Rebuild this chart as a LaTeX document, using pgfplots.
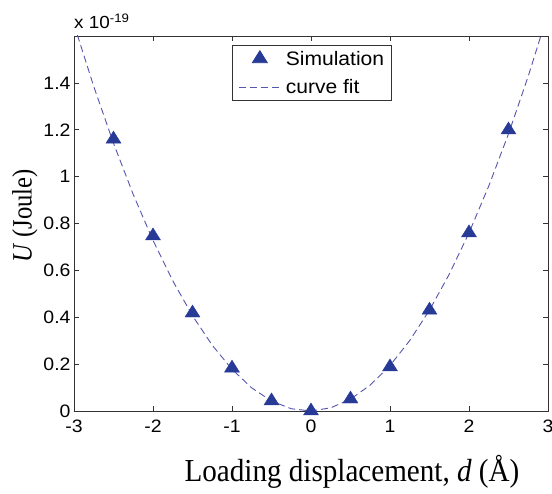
\documentclass[border=0pt]{standalone}
\usepackage{fontspec}
\setmainfont{Liberation Serif}
\newfontfamily\arial[FakeStretch=1.08]{Liberation Sans}
\newfontfamily\xlfont[FakeStretch=0.91]{Liberation Serif}
\newfontfamily\ylfont[FakeStretch=0.88]{Liberation Serif}
\usepackage{pgfplots}
\pgfplotsset{compat=1.18}
\definecolor{mk}{RGB}{38,58,150}
\definecolor{fitc}{RGB}{85,85,175}
\pgfplotsset{
  mklegend/.style={legend image code/.code={\draw[mark repeat=2,mark phase=2,##1] plot coordinates {(0pt,0pt)(21pt,0pt)(42pt,0pt)};}},
  lnlegend/.style={legend image code/.code={\draw[##1] (0pt,0pt) -- (42pt,0pt);}},
}
\begin{document}
\begin{tikzpicture}[x=1pt,y=1pt]
\path[use as bounding box] (-74,-83) rectangle (478,411);
\begin{axis}[
  name=ax,
  at={(0,0)}, anchor=south west,
  scale only axis, width=474pt, height=375pt,
  xmin=-3, xmax=3, ymin=0, ymax=1.6,
  xtick={-3,-2,...,3},
  ytick={0,0.2,0.4,0.6,0.8,1,1.2,1.4},
  yticklabels={0,0.2,0.4,0.6,0.8,1,1.2,1.4},
  xticklabels={-3,-2,-1,0,1,2,3},
  tick align=inside,
  major tick length=5pt,
  axis line style={black!80, line width=0.8pt},
  tick style={black!80, line width=0.6pt},
  /pgf/number format/assume math mode=true,
  ticklabel style={font=\arial\fontsize{18}{21}\selectfont, inner sep=1pt},
  xticklabel style={yshift=-8pt},
  yticklabel style={xshift=-2.3pt},
  xlabel={Loading displacement, \textit{d} (Å)},
  ylabel={\textit{U} (Joule)},
  xlabel style={font=\xlfont\fontsize{32}{36}\selectfont, at={(axis description cs:0.5865,0)}, anchor=base, yshift=-71pt},
  ylabel style={font=\ylfont\fontsize{28}{32}\selectfont, at={(axis description cs:-0.1034,0.52)}, anchor=center},
  legend style={at={(axis cs:-1.0,1.5616)}, anchor=north west, draw=black!80,
    font=\arial\fontsize{19.5}{22}\selectfont, inner xsep=6pt, inner ysep=4pt,
    row sep=10pt, line width=0.8pt,
    nodes={inner sep=1.5pt},
    /tikz/every odd column/.append style={column sep=3pt}},
  legend cell align=left,
]
\addplot[only marks, mark=triangle*, mark size=8pt, mark options={xscale=1.08}, color=mk, mklegend]
coordinates {
(-2.5,1.16) (-2,0.747) (-1.5,0.418) (-1,0.183) (-0.5,0.043) (0,0.0)
(0.5,0.051) (1,0.188) (1.5,0.43) (2,0.76) (2.5,1.199)};
\addlegendentry{Simulation}
\addplot[color=fitc, line width=0.9pt, dash pattern=on 7pt off 4pt, lnlegend]
coordinates {
(-3,1.650) (-2.75,1.3846) (-2.5,1.1425) (-2.25,0.9236) (-2,0.728)
(-1.75,0.5556) (-1.5,0.4065) (-1.25,0.2806) (-1,0.178) (-0.75,0.0986)
(-0.5,0.0425) (-0.25,0.0096) (0,0) (0.25,0.0136) (0.5,0.0505)
(0.75,0.1106) (1,0.194) (1.25,0.3006) (1.5,0.4305) (1.75,0.5836)
(2,0.760) (2.25,0.9596) (2.5,1.1825) (2.75,1.4286) (3,1.698)};
\addlegendentry{curve fit}
\end{axis}
\node[anchor=base west, font=\arial\fontsize{17.5}{20}\selectfont, inner sep=0pt]
  at ([yshift=7pt]ax.north west) {x 10\textsuperscript{-19}};
\end{tikzpicture}
\end{document}
